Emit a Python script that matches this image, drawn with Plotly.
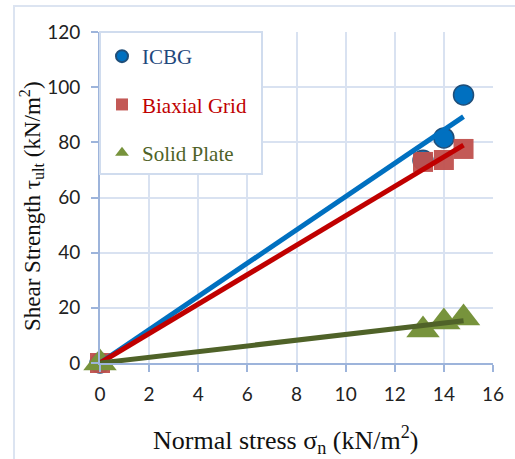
import numpy as np
import plotly.graph_objects as go

# ---- data ----
icbg_x = [0, 13.15, 14.0, 14.8]
icbg_y = [0, 73.5, 81.6, 97.2]
biax_x = [0, 13.15, 14.0, 14.8]
biax_y = [0, 72.9, 73.6, 77.6]
solid_x = [0, 13.15, 14.0, 14.8]
solid_y = [0, 12.0, 14.9, 16.3]

x_ticks = [0, 2, 4, 6, 8, 10, 12, 14, 16]
y_ticks = [0, 20, 40, 60, 80, 100, 120]

names = ["ICBG", "Biaxial Grid", "Solid Plate"]
text_colors = ["#1F497D", "#C00000", "#4F6228"]

SERIF = "Liberation Serif"

fig = go.Figure()

def origin_fit(xs, ys):
    xs = np.array(xs, float); ys = np.array(ys, float)
    k = (xs * ys).sum() / (xs * xs).sum()
    xl = np.array([0.0, xs.max()])
    return xl, k * xl

# markers
fig.add_trace(go.Scatter(x=icbg_x, y=icbg_y, mode="markers", cliponaxis=False,
                         name=f'<span style="color:{text_colors[0]}">{names[0]}</span>',
                         legendgroup="a",
                         marker=dict(symbol="circle", size=20, color="#0070C0",
                                     line=dict(color="#1F4E79", width=1.5))))
fig.add_trace(go.Scatter(x=biax_x, y=biax_y, mode="markers", cliponaxis=False,
                         name=f'<span style="color:{text_colors[1]}">{names[1]}</span>',
                         legendgroup="b",
                         marker=dict(symbol="square", size=20, color="rgba(192,80,77,0.95)",
                                     line=dict(width=0))))
fig.add_trace(go.Scatter(x=solid_x, y=solid_y, mode="markers", cliponaxis=False,
                         name=f'<span style="color:{text_colors[2]}">{names[2]}</span>',
                         legendgroup="c",
                         marker=dict(symbol="triangle-up", size=29, color="#77933C",
                                     line=dict(width=0))))

# trendlines through origin
for xs, ys, col in [(icbg_x, icbg_y, "#0070C0"), (biax_x, biax_y, "#C00000"),
                    (solid_x, solid_y, "#4F6228")]:
    xl, yl = origin_fit(xs, ys)
    fig.add_trace(go.Scatter(x=xl, y=yl, mode="lines", showlegend=False,
                             cliponaxis=False, hoverinfo="skip",
                             line=dict(color=col, width=5)))

grid_c = "#D9E2F1"
axis_c = "#9DB4DB"

fig.update_xaxes(range=[0, 16], tickvals=x_ticks, showgrid=True, gridcolor=grid_c,
                 gridwidth=2, showline=True, linecolor=axis_c, linewidth=2,
                 ticks="outside", ticklen=7, tickwidth=2, tickcolor=axis_c,
                 zeroline=False, ticklabelstandoff=6,
                 tickfont=dict(family="Lato", size=19, color="#222"))
fig.update_yaxes(range=[0, 120], tickvals=y_ticks, showgrid=True, gridcolor=grid_c,
                 gridwidth=2, showline=True, linecolor=axis_c, linewidth=2,
                 ticks="outside", ticklen=7, tickwidth=2, tickcolor=axis_c,
                 zeroline=False, ticklabelstandoff=7,
                 tickfont=dict(family="Lato", size=19, color="#222"))

L, R, T, B = 100, 22, 32, 96
W, H = 515, 459
pw, ph = W - L - R, H - T - B

def px2x(px):
    return (px - L) / pw

def px2y(py):
    return (H - B - py) / ph

shapes = [
    # outer chart frame
    dict(type="rect", xref="paper", yref="paper", x0=px2x(14), y0=-2, x1=3, y1=px2y(6),
         line=dict(color="#DCE4F1", width=2), fillcolor="rgba(0,0,0,0)", layer="below"),
    # legend box
    dict(type="rect", xref="paper", yref="paper", x0=px2x(100), y0=px2y(174), x1=px2x(262),
         y1=px2y(32), line=dict(color="#D0DCEE", width=2), fillcolor="white", layer="above"),
]

annotations = [
    dict(text="Normal stress σ<sub>n</sub> (kN/m<sup>2</sup>)", xref="paper", yref="paper",
         x=px2x(285), y=px2y(440), showarrow=False, xanchor="center", yanchor="middle",
         font=dict(family=SERIF, size=26, color="#111")),
    dict(text="Shear Strength τ<sub>ult</sub> (kN/m<sup>2</sup>)", xref="paper", yref="paper",
         x=px2x(31), y=px2y(206), showarrow=False, xanchor="center", yanchor="middle",
         textangle=-90,
         font=dict(family=SERIF, size=23, color="#111")),
]

fig.update_layout(
    width=W, height=H, margin=dict(l=L, r=R, t=T, b=B),
    paper_bgcolor="white", plot_bgcolor="white",
    shapes=shapes, annotations=annotations,
    legend=dict(x=px2x(102), y=px2y(36), xanchor="left", yanchor="top",
                bgcolor="rgba(0,0,0,0)", borderwidth=0, traceorder="grouped",
                tracegroupgap=18, itemsizing="constant",
                font=dict(family=SERIF, size=21)),
)

fig.write_html("out.html")
